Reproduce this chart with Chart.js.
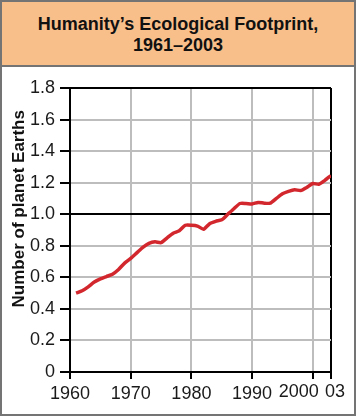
<!DOCTYPE html>
<html>
<head>
<meta charset="utf-8">
<script src="https://cdn.jsdelivr.net/npm/chart.js@4/dist/chart.umd.min.js"></script>
<style>
  html, body { margin: 0; padding: 0; background: #fff; }
  #frame { position: relative; width: 356px; height: 416px; box-sizing: border-box; border: 2px solid #747474; overflow: hidden; }
  #title { position: absolute; left: 0; top: 0; width: 352px; height: 65px; background: #f9bf8a; border-bottom: 2px solid #747474;
           font: bold 18px "Liberation Sans", Arial, sans-serif; color: #111; text-align: center; line-height: 21px; padding-top: 12px; box-sizing: border-box; }
  canvas { position: absolute; left: -2px; top: -2px; }
</style>
</head>
<body>
<div id="frame">
  <div id="title">Humanity’s Ecological Footprint,<br>1961–2003</div>
  <canvas id="c" width="356" height="416"></canvas>
</div>
<script>
const chartTitle = "Humanity’s Ecological Footprint, 1961–2003";
const yAxisTitle = "Number of planet Earths";
const years = [1961,1962,1963,1964,1965,1966,1967,1968,1969,1970,1971,1972,1973,1974,1975,1976,1977,1978,1979,1980,1981,1982,1983,1984,1985,1986,1987,1988,1989,1990,1991,1992,1993,1994,1995,1996,1997,1998,1999,2000,2001,2002,2003];
const planets = [0.50,0.515,0.54,0.57,0.59,0.605,0.62,0.65,0.69,0.72,0.755,0.79,0.815,0.825,0.82,0.85,0.88,0.895,0.93,0.93,0.925,0.905,0.94,0.955,0.965,1.00,1.035,1.068,1.068,1.065,1.075,1.07,1.07,1.10,1.13,1.145,1.155,1.15,1.17,1.195,1.19,1.215,1.245];
const xTickValues = [1960,1970,1980,1990,2000,2003];
const xTickLabels = ["1960","1970","1980","1990","2000","03"];
const yTickValues = [0,0.2,0.4,0.6,0.8,1.0,1.2,1.4,1.6,1.8];
const yTickLabels = ["0","0.2","0.4","0.6","0.8","1.0","1.2","1.4","1.6","1.8"];

const FONT = '"Liberation Sans", Arial, sans-serif';
// labels that are nudged sideways (drawn by the plugin below)
const nudged = { 2000: -14, 2003: 4 };

const xLabelPlugin = {
  id: 'xLabels',
  afterDraw(chart) {
    const s = chart.scales.x;
    const c = chart.ctx;
    c.save();
    c.font = '18px ' + FONT;
    c.fillStyle = '#1a1a1a';
    c.textAlign = 'center';
    c.textBaseline = 'top';
    xTickValues.forEach((v, i) => {
      if (nudged[v] === undefined) return;
      c.fillText(xTickLabels[i], s.getPixelForValue(v) + nudged[v], s.top + 11);
    });
    c.restore();
  }
};

new Chart(document.getElementById('c'), {
  type: 'line',
  data: {
    datasets: [{
      data: years.map((y, i) => ({ x: y, y: planets[i] })),
      borderColor: '#d3272e',
      borderWidth: 3.5,
      pointRadius: 0,
      tension: 0.2,
      fill: false
    }]
  },
  plugins: [xLabelPlugin],
  options: {
    responsive: false,
    animation: false,
    layout: { padding: { top: 88, right: 25, left: 0, bottom: 0 } },
    plugins: { legend: { display: false }, tooltip: { enabled: false }, title: { display: false } },
    scales: {
      x: {
        type: 'linear',
        min: 1960, max: 2003,
        afterBuildTicks: s => { s.ticks = xTickValues.map(v => ({ value: v })); },
        afterFit: s => { s.height = 44; },
        ticks: {
          autoSkip: false, maxRotation: 0, padding: 4,
          color: '#1a1a1a', font: { family: FONT, size: 18 },
          callback: v => (nudged[v] !== undefined) ? '' : xTickLabels[xTickValues.indexOf(v)]
        },
        grid: {
          color: ctx => (ctx.tick && (ctx.tick.value === 1960 || ctx.tick.value === 2003)) ? '#000' : '#bdbdbd',
          lineWidth: 2, tickColor: '#000', tickLength: 7, drawTicks: true
        },
        border: { display: true, color: '#000', width: 2 }
      },
      y: {
        min: 0, max: 1.8,
        afterBuildTicks: s => { s.ticks = yTickValues.map(v => ({ value: v })); },
        afterFit: s => { s.width = 70; },
        ticks: {
          padding: 5, color: '#1a1a1a', font: { family: FONT, size: 18 },
          callback: v => yTickLabels[yTickValues.findIndex(t => Math.abs(t - v) < 1e-6)]
        },
        grid: {
          color: ctx => (ctx.tick && (Math.abs(ctx.tick.value - 1) < 1e-6 || Math.abs(ctx.tick.value - 1.8) < 1e-6 || ctx.tick.value === 0)) ? '#000' : '#bdbdbd',
          lineWidth: 2, tickColor: '#000', tickLength: 10
        },
        border: { display: true, color: '#000', width: 2 },
        title: { display: true, text: '\u00A0\u00A0\u00A0\u00A0\u00A0\u00A0\u00A0\u00A0\u00A0' + yAxisTitle, color: '#111', font: { family: FONT, size: 17, weight: 'bold' }, padding: { top: 9, bottom: 0 } }
      }
    }
  }
});
</script>
</body>
</html>
